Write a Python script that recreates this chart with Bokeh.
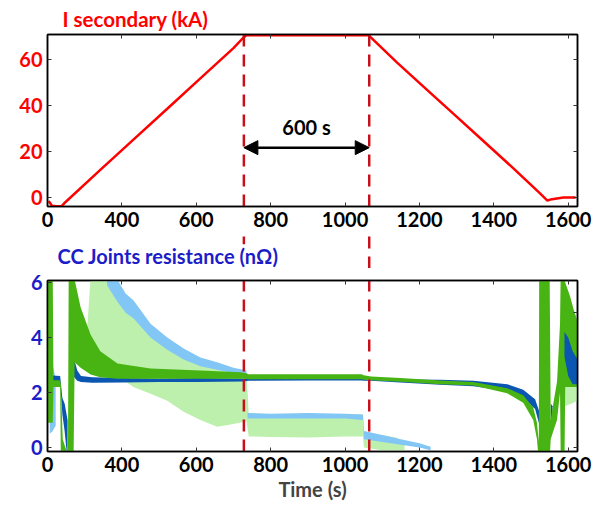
import math
from bokeh.plotting import figure
from bokeh.layouts import column
from bokeh.models import Range1d, LinearAxis, FixedTicker, Arrow, NormalHead, Label
from bokeh.embed import file_html
from bokeh.resources import INLINE

NAN = float("nan")

# ---------------- data ----------------
TIME_TICKS = [200, 400, 600, 800, 1000, 1200, 1400, 1600]
TIME_TICK_LABELS = ["0", "400", "600", "800", "1000", "1200", "1400", "1600"]
I_TICKS = [0, 20, 40, 60]
R_TICKS = [0, 2, 4, 6]
R_RIGHT_TICKS = [0, 4.9]

# top panel: secondary current (kA)
I_TIME = [203, 212, 225, 238, 245, 342, 431, 522, 611, 700, 727, 735,
          1063, 1140, 1216, 1291, 1369, 1452, 1525, 1544, 1552, 1587, 1620]
I_KA = [-1.5, -3.6, -3.8, -3.7, -2.5, 12.0, 25.2, 38.6, 51.8, 65.0, 69.6, 70.6,
        70.6, 58.7, 47.5, 36.5, 25.0, 12.8, 1.7, -1.3, -0.9, 0.0, 0.0]

MARK_TIMES = [728, 1065]
HOLD_LABEL = "600 s"
HOLD_LEVEL = 21.7
HOLD_LABEL_LEVEL = 30.5

# bottom panel: resistance envelopes (nOhm), NaN separates pieces
LG_T = [300, 316, 369, 388, 410, 431, 477, 522, 566, 611, 656, 700, 735,
        741, 800, 900, 1000, 1048, 1051, 1100, 1140, 1160, NAN,
        1590, 1610, 1625]
LG_LO = [2.9, 2.9, 2.6, 2.5, 2.4, 2.2, 1.95, 1.7, 1.3, 1.0, 0.75, 0.85, 0.95,
         0.4, 0.38, 0.36, 0.4, 0.4, 0.0, -0.1, -0.1, -0.1, NAN,
         1.5, 1.6, 1.7]
LG_HI = [3.0, 6.2, 6.2, 5.4, 5.0, 4.8, 4.1, 3.65, 3.3, 3.05, 2.9, 2.78, 2.7,
         1.25, 1.2, 1.22, 1.2, 1.2, 0.5, 0.45, 0.35, 0.1, NAN,
         2.8, 2.6, 2.5]

LB_T = [206, 214, 222, NAN,
        360, 388, 410, 431, 477, 522, 566, 611, 656, 700, 735,
        738, 800, 900, 1000, 1048, 1051, 1100, 1150, 1200, 1230]
LB_LO = [0.5, 0.6, 0.8, NAN,
         5.9, 5.3, 4.9, 4.7, 4.0, 3.55, 3.2, 2.95, 2.82, 2.7, 2.62,
         1.05, 1.05, 1.05, 1.05, 1.0, 0.3, 0.2, 0.1, 0.0, -0.1]
LB_HI = [3.1, 3.0, 2.5, NAN,
         6.2, 6.1, 5.6, 5.35, 4.5, 4.0, 3.6, 3.27, 3.1, 2.9, 2.8,
         1.25, 1.22, 1.25, 1.22, 1.2, 0.6, 0.45, 0.3, 0.15, 0.02]

G_T = [200, 214, 216, 234, 236, 241, 255, 257, 270, 273, 289, 316, 342, 388,
       477, 611, 719, 735, 740, 900, 1045, 1050, 1070, 1149, 1256, 1345, 1436,
       1479, 1506, 1516, 1521, 1522, 1550, 1553, 1560, 1570, 1578, 1580, 1590,
       1592, 1605, 1615, 1625]
G_LO = [0.9, 0.9, 2.2, 2.2, -0.5, -0.5, -0.5, -0.5, -0.5, 3.1, 2.9, 2.65, 2.55, 2.5,
        2.5, 2.5, 2.5, 2.5, 2.48, 2.48, 2.48, 2.46, 2.44, 2.39, 2.3, 2.25, 1.97,
        1.62, 1.0, 0.3, -0.5, -0.5, -0.5, 0.3, 0.6, 1.0, 2.0, -0.5, -0.5,
        2.2, 2.2, 2.2, 2.2]
G_HI = [6.5, 6.5, 2.44, 2.44, 2.3, 0.3, -0.3, 6.5, 6.5, 6.1, 5.1, 4.1, 3.5, 3.05,
        2.87, 2.8, 2.73, 2.7, 2.66, 2.66, 2.66, 2.62, 2.58, 2.52, 2.43, 2.38, 2.15,
        1.9, 1.45, 0.9, 0.2, 6.5, 6.5, 1.0, 1.6, 2.4, 4.5, 6.5, 6.5,
        6.0, 5.5, 5.0, 4.6]

DB_T = [204, 234, 240, 246, 254, NAN,
        262, 266, 272, 280, 290, 320, 400, 500, 600, 727, 740, 900, 1045, 1050,
        1070, 1149, 1256, 1345, 1436, 1479, 1511, 1525, 1531, NAN,
        1553, 1558, NAN,
        1590, 1600, 1612, 1625]
DB_LO = [2.3, 2.28, 1.2, 0.6, -0.5, NAN,
         2.5, 2.6, 2.55, 2.42, 2.38, 2.35, 2.36, 2.38, 2.38, 2.4, 2.42, 2.43, 2.43, 2.42,
         2.42, 2.36, 2.28, 2.22, 2.05, 1.8, 1.4, 0.7, -0.5, NAN,
         1.0, 1.1, NAN,
         3.3, 2.6, 2.3, 2.3]
DB_HI = [2.62, 2.6, 1.8, 1.6, 1.0, NAN,
         3.0, 3.55, 3.2, 2.8, 2.6, 2.55, 2.52, 2.5, 2.52, 2.5, 2.52, 2.53, 2.53, 2.5,
         2.5, 2.47, 2.46, 2.42, 2.3, 2.1, 1.75, 1.2, 0.3, NAN,
         1.6, 1.5, NAN,
         4.2, 4.0, 3.5, 3.2]

# ---------------- styling ----------------
FONT = "Lato"
RED = "#ff0000"
DARK_RED = "#c8101a"
BLUE_TXT = "#1c1cc8"
C_LG = "#bdf0ad"
C_LB = "#82c6f5"
C_G = "#48b414"
C_DB = "#0a56b0"
X_RANGE = Range1d(200, 1625)
BL, BR = 47, 26


def segments(t, lo, hi):
    segs, cur = [], ([], [], [])
    for a, b, c in zip(t, lo, hi):
        if math.isnan(a):
            if cur[0]:
                segs.append(cur)
            cur = ([], [], [])
        else:
            cur[0].append(a)
            cur[1].append(b)
            cur[2].append(c)
    if cur[0]:
        segs.append(cur)
    return segs


def style_axes(p, ycolor, yticks, right_ticks):
    bottom = p.below[0]
    left = p.left[0]
    bottom.ticker = FixedTicker(ticks=TIME_TICKS)
    bottom.major_label_overrides = {t: s for t, s in zip(TIME_TICKS, TIME_TICK_LABELS)}
    left.ticker = FixedTicker(ticks=yticks)
    for ax in (bottom, left):
        ax.major_tick_in = 4
        ax.major_tick_out = 0
        ax.minor_tick_line_color = None
        ax.axis_line_width = 1.5
        ax.axis_line_color = "black"
        ax.major_tick_line_color = "#333333"
        ax.major_label_text_font = FONT
        ax.major_label_text_font_style = "bold"
        ax.major_label_text_font_size = "20px"
        ax.major_label_standoff = 5
    bottom.major_label_text_color = "black"
    left.major_label_text_color = ycolor
    p.grid.visible = False
    p.outline_line_color = "black"
    p.outline_line_width = 1.5
    top = LinearAxis(ticker=FixedTicker(ticks=TIME_TICKS))
    right = LinearAxis(ticker=FixedTicker(ticks=right_ticks))
    for ax in (top, right):
        ax.major_tick_in = 4
        ax.major_tick_out = 0
        ax.minor_tick_line_color = None
        ax.axis_line_width = 1.5
        ax.major_tick_line_color = "#333333"
        ax.major_label_text_font_size = "0px"
        ax.major_label_text_color = None
        ax.major_label_standoff = 0
    p.add_layout(top, "above")
    p.add_layout(right, "right")


# ---------------- top panel ----------------
p1 = figure(frame_width=530, frame_height=172, x_range=X_RANGE, y_range=Range1d(-3.9, 70.9),
            output_backend="svg", toolbar_location=None, tools="",
            min_border_left=BL, min_border_right=BR, min_border_top=34, min_border_bottom=28)
p1.title.text = "I secondary (kA)"
p1.title.text_color = RED
p1.title.text_font = FONT
p1.title.text_font_style = "bold"
p1.title.text_font_size = "20.5px"
p1.title.align = "left"
p1.title.offset = 15
p1.title.standoff = 8
style_axes(p1, RED, I_TICKS, I_TICKS)

p1.line(I_TIME, I_KA, line_color=RED, line_width=2.5)
p1.segment(x0=MARK_TIMES, y0=[-3.9, -3.9], x1=MARK_TIMES, y1=[70.9, 70.9],
           line_color=DARK_RED, line_width=2.5, line_dash="12 8")
p1.add_layout(Arrow(start=NormalHead(size=14, fill_color="black", line_color="black"),
                    end=NormalHead(size=14, fill_color="black", line_color="black"),
                    x_start=MARK_TIMES[0], y_start=HOLD_LEVEL,
                    x_end=MARK_TIMES[1], y_end=HOLD_LEVEL,
                    line_color="black", line_width=2.5))
p1.add_layout(Label(x=(MARK_TIMES[0] + MARK_TIMES[1]) / 2, y=HOLD_LABEL_LEVEL, text=HOLD_LABEL,
                    text_align="center", text_baseline="middle", text_font=FONT,
                    text_font_style="bold", text_font_size="20px", text_color="black"))

# ---------------- gap strip (dashed markers continue, lower panel title) ----------------
p3 = figure(frame_width=530, frame_height=34, x_range=X_RANGE, y_range=Range1d(0, 1),
            output_backend="svg", toolbar_location=None, tools="", title=None,
            x_axis_type=None, y_axis_type=None,
            min_border_left=BL, min_border_right=BR, min_border_top=0, min_border_bottom=0)
p3.grid.visible = False
p3.outline_line_color = None
p3.segment(x0=MARK_TIMES, y0=[0, 0], x1=MARK_TIMES, y1=[1, 1],
           line_color=DARK_RED, line_width=2.5, line_dash="12 8")
p3.add_layout(Label(x=227, y=0.36, text="CC Joints resistance (n\u03a9)",
                    text_align="left", text_baseline="middle", text_font=FONT,
                    text_font_style="bold", text_font_size="20px", text_color=BLUE_TXT,
                    background_fill_color="white"))

# ---------------- bottom panel ----------------
p2 = figure(frame_width=530, frame_height=171, x_range=X_RANGE, y_range=Range1d(-0.15, 6.07),
            output_backend="svg", toolbar_location=None, tools="", title=None,
            min_border_left=BL, min_border_right=BR, min_border_top=12, min_border_bottom=56)
style_axes(p2, BLUE_TXT, R_TICKS, R_RIGHT_TICKS)
xb = p2.below[0]
xb.axis_label = "Time (s)"
xb.axis_label_text_font = FONT
xb.axis_label_text_font_style = "bold"
xb.axis_label_text_font_size = "20px"
xb.axis_label_standoff = 2

for t, lo, hi in segments(LG_T, LG_LO, LG_HI):
    p2.varea(x=t, y1=lo, y2=hi, fill_color=C_LG)
for t, lo, hi in segments(LB_T, LB_LO, LB_HI):
    p2.varea(x=t, y1=lo, y2=hi, fill_color=C_LB)
db_segs = segments(DB_T, DB_LO, DB_HI)
for t, lo, hi in db_segs[:-1]:
    p2.varea(x=t, y1=lo, y2=hi, fill_color=C_DB)
for t, lo, hi in segments(G_T, G_LO, G_HI):
    p2.varea(x=t, y1=lo, y2=hi, fill_color=C_G)
t, lo, hi = db_segs[-1]
p2.varea(x=t, y1=lo, y2=hi, fill_color=C_DB)

p2.segment(x0=MARK_TIMES, y0=[-0.15, -0.15], x1=MARK_TIMES, y1=[6.07, 6.07],
           line_color=DARK_RED, line_width=2.5, line_dash="12 8")

layout = column(p1, p3, p2, spacing=0)
open("out.html", "w").write(file_html(layout, INLINE))
